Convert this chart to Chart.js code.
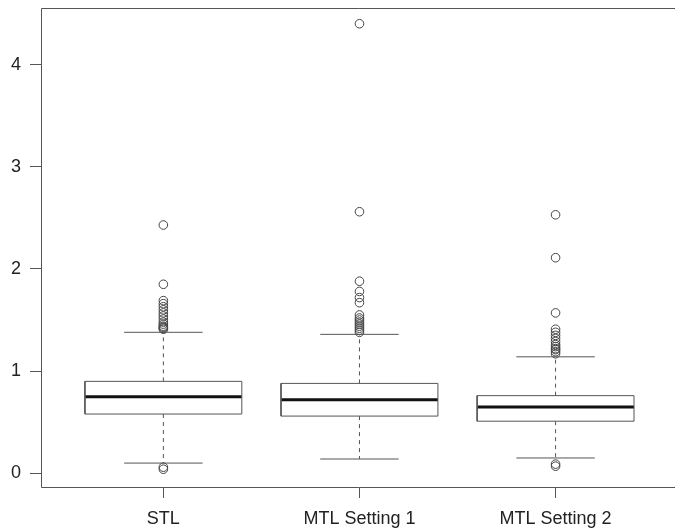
<!DOCTYPE html>
<html>
<head>
<meta charset="utf-8">
<script src="https://cdn.jsdelivr.net/npm/chart.js@4/dist/chart.umd.min.js"></script>
<style>
html,body{margin:0;padding:0;background:#fff;overflow:hidden;width:675px;height:532px;}
#wrap{width:675px;height:532px;}
</style>
</head>
<body>
<div id="wrap"><canvas id="c" width="675" height="532"></canvas></div>
<script>
const categories = ['STL', 'MTL Setting 1', 'MTL Setting 2'];
const q1 = [0.58, 0.56, 0.51];
const median = [0.75, 0.72, 0.65];
const q3 = [0.90, 0.88, 0.76];
const whiskerLow = [0.10, 0.14, 0.15];
const whiskerHigh = [1.38, 1.36, 1.14];
const outliersSTL = [0.04, 0.06, 1.41, 1.42, 1.43, 1.44, 1.46, 1.48, 1.51, 1.54, 1.57, 1.60, 1.63, 1.66, 1.69, 1.85, 2.43];
const outliersMTL1 = [1.38, 1.40, 1.42, 1.44, 1.46, 1.48, 1.50, 1.52, 1.55, 1.67, 1.72, 1.78, 1.88, 2.56, 4.40];
const outliersMTL2 = [0.07, 0.09, 1.17, 1.19, 1.21, 1.22, 1.24, 1.26, 1.29, 1.32, 1.35, 1.38, 1.41, 1.57, 2.11, 2.53];
const yTicks = [0, 1, 2, 3, 4];

const outliers = [outliersSTL, outliersMTL1, outliersMTL2];
const LINE = '#555';
const HALF = 0.4, CAP = 0.2;

const datasets = [];
categories.forEach((cat, i) => {
  const x = i + 1;
  const base = {type: 'scatter', showLine: true, pointRadius: 0, fill: false, borderColor: LINE, borderWidth: 1, tension: 0};
  datasets.push(Object.assign({}, base, {data: [
    {x: x - HALF, y: q1[i]}, {x: x + HALF, y: q1[i]}, {x: x + HALF, y: q3[i]}, {x: x - HALF, y: q3[i]}, {x: x - HALF, y: q1[i]}
  ]}));
  datasets.push(Object.assign({}, base, {borderColor: '#111', borderWidth: 3, data: [{x: x - HALF, y: median[i]}, {x: x + HALF, y: median[i]}]}));
  datasets.push(Object.assign({}, base, {borderDash: [4, 4], data: [{x: x, y: q3[i]}, {x: x, y: whiskerHigh[i]}]}));
  datasets.push(Object.assign({}, base, {borderDash: [4, 4], data: [{x: x, y: q1[i]}, {x: x, y: whiskerLow[i]}]}));
  datasets.push(Object.assign({}, base, {data: [{x: x - CAP, y: whiskerHigh[i]}, {x: x + CAP, y: whiskerHigh[i]}]}));
  datasets.push(Object.assign({}, base, {data: [{x: x - CAP, y: whiskerLow[i]}, {x: x + CAP, y: whiskerLow[i]}]}));
  datasets.push({type: 'scatter', showLine: false, data: outliers[i].map(v => ({x: x, y: v})),
    pointStyle: 'circle', pointRadius: 4.3, pointBorderWidth: 1, pointBorderColor: '#444', pointBackgroundColor: 'rgba(0,0,0,0)'});
});

// plot frame: the right side lies just beyond the visible page, so only top, left and bottom show
const frame = {
  id: 'frame',
  afterDraw(chart) {
    const a = chart.chartArea, ctx = chart.ctx;
    const l = Math.round(a.left) + 0.5, t = Math.round(a.top) + 0.5, b = Math.round(a.bottom) + 0.5;
    ctx.save();
    ctx.strokeStyle = LINE;
    ctx.lineWidth = 1;
    ctx.beginPath();
    ctx.moveTo(chart.width, t); ctx.lineTo(l, t); ctx.lineTo(l, b); ctx.lineTo(chart.width, b);
    ctx.stroke();
    ctx.restore();
  }
};

const font = {family: '"Liberation Sans", Arial, sans-serif', size: 18};

new Chart(document.getElementById('c'), {
  type: 'scatter',
  data: {datasets},
  options: {
    responsive: false,
    animation: false,
    layout: {padding: {top: 8, right: 0, left: 0, bottom: 0}},
    plugins: {legend: {display: false}, tooltip: {enabled: false}},
    scales: {
      x: {
        type: 'linear', min: 0.376, max: 3.582,
        afterBuildTicks: s => { s.ticks = categories.map((c, i) => ({value: i + 1})); },
        afterFit: s => { s.height = 45; s.paddingLeft = 0; s.paddingRight = 0; },
        ticks: {callback: v => categories[v - 1], font, color: '#222', padding: 10, maxRotation: 0, autoSkip: false},
        grid: {drawOnChartArea: false, drawTicks: true, tickLength: 11, color: LINE},
        border: {display: false}
      },
      y: {
        type: 'linear', min: -0.134, max: 4.554,
        afterBuildTicks: s => { s.ticks = yTicks.map(v => ({value: v})); },
        afterFit: s => { s.width = 41; s.paddingTop = 0; s.paddingBottom = 0; },
        ticks: {callback: v => String(v), font, color: '#222', padding: 9},
        grid: {drawOnChartArea: false, drawTicks: true, tickLength: 11, color: LINE},
        border: {display: false}
      }
    }
  },
  plugins: [frame]
});
</script>
</body>
</html>
